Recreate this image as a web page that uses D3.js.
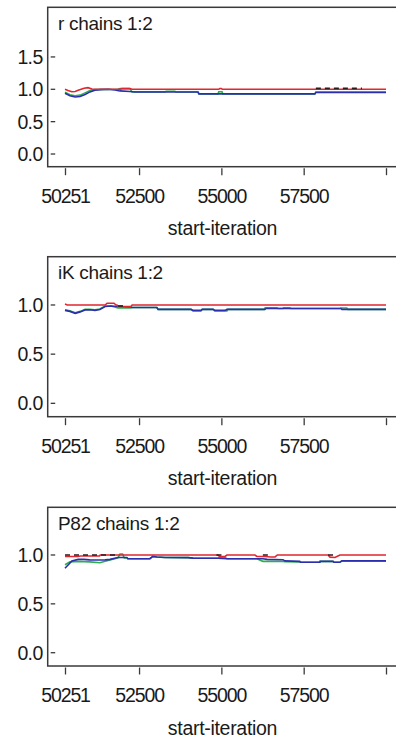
<!DOCTYPE html>
<html>
<head>
<meta charset="utf-8">
<script src="https://cdn.jsdelivr.net/npm/d3@7"></script>
<style>
  html, body { margin: 0; padding: 0; background: #fff; }
  svg { display: block; }
  text { font-family: "Liberation Sans", Arial, sans-serif; fill: #1a1a1a; }
</style>
</head>
<body>
<svg id="chart" width="396" height="742"></svg>
<script>
// Brooks-Gelman-Rubin convergence traces for three monitored nodes, 2 chains.
const xTicks = [50251, 52500, 55000, 57500, 60000];
const xTickLabels = ["50251", "52500", "55000", "57500", ""];
const xDomain = [50251, 60000];
const xTitle = "start-iteration";

const panelTitles = ["r chains 1:2", "iK chains 1:2", "P82 chains 1:2"];
const yTicksPanel = [[0, 0.5, 1.0, 1.5], [0, 0.5, 1.0], [0, 0.5, 1.0]];
const yTickLabelsPanel = [["0.0", "0.5", "1.0", "1.5"], ["0.0", "0.5", "1.0"], ["0.0", "0.5", "1.0"]];
const yDomainPanel = [[-0.196, 2.267], [-0.136, 1.491], [-0.136, 1.488]];

// r
const rGreen = [[50251,0.955],[50400,0.915],[50560,0.9],[50710,0.91],[50860,0.945],[51010,0.98],[51160,0.995],[51860,1.0],[51920,1.01],[52220,1.01],[52290,0.96],[53290,0.96],[53320,0.97],[53590,0.97],[53620,0.958],[54290,0.958],[54320,0.93],[54900,0.93],[54920,0.962],[55020,0.962],[55040,0.93],[57840,0.93],[57870,0.955],[60000,0.955]];
const rBlue = [[50251,0.94],[50400,0.9],[50560,0.882],[50710,0.888],[50860,0.92],[51010,0.96],[51160,0.985],[51310,0.995],[51560,1.0],[51770,0.99],[51920,0.975],[52220,0.965],[52380,0.958],[54290,0.958],[54320,0.93],[57840,0.93],[57870,0.953],[60000,0.953]];
const rRed = [[50251,1.0],[50340,0.98],[50460,0.962],[50560,0.965],[50650,0.985],[50830,1.015],[50950,1.025],[51070,1.005],[51160,1.0],[51920,1.0],[51980,1.01],[52220,1.01],[52290,1.0],[54920,1.0],[54950,1.012],[55000,1.012],[55030,1.0],[57840,1.0],[60000,1.0]];
const rDark = [[57870,1.015],[59270,1.015]];

// iK
const iKGreen = [[50251,0.95],[50400,0.94],[50560,0.92],[50710,0.935],[50860,0.955],[51010,0.955],[51160,0.95],[51310,0.96],[51470,0.99],[51650,0.99],[51860,0.97],[52250,0.97],[52290,0.975],[53040,0.975],[53080,0.955],[54080,0.955],[54140,0.94],[54380,0.94],[54420,0.955],[54750,0.955],[54800,0.94],[55170,0.94],[55200,0.955],[56300,0.955],[56330,0.972],[56690,0.972],[56720,0.965],[56870,0.965],[56890,0.972],[57080,0.972],[57110,0.965],[58600,0.965],[58630,0.97],[58810,0.97],[58840,0.955],[60000,0.955]];
const iKBlue = [[50251,0.945],[50400,0.935],[50560,0.915],[50710,0.93],[50860,0.95],[51010,0.952],[51160,0.945],[51310,0.955],[51470,0.985],[51650,0.99],[51860,0.985],[52250,0.98],[52290,0.975],[53040,0.975],[53080,0.955],[54080,0.955],[54140,0.945],[54380,0.945],[54420,0.955],[54750,0.955],[54800,0.945],[55110,0.945],[55170,0.955],[56320,0.955],[56360,0.965],[58630,0.965],[58660,0.955],[60000,0.955]];
const iKRed = [[50251,1.01],[50320,1.0],[51470,1.0],[51530,1.018],[51740,1.018],[51800,1.0],[51830,1.0],[51860,0.985],[52250,0.985],[52290,1.0],[60000,1.0]];
const iKDark = [[51860,0.99],[52130,0.99]];

// P82
const pGreen = [[50251,0.9],[50400,0.93],[50650,0.935],[51000,0.93],[51310,0.92],[51470,0.935],[51620,0.95],[51860,0.97],[51920,1.01],[52000,1.01],[52050,0.97],[52130,0.97],[52160,0.962],[52830,0.962],[52920,0.985],[53040,0.98],[53290,0.975],[53990,0.973],[54140,0.968],[54900,0.966],[54950,0.975],[55110,0.975],[55170,0.962],[56080,0.962],[56260,0.935],[56870,0.935],[56930,0.932],[57380,0.93],[57400,0.925],[57990,0.925],[58000,0.935],[58390,0.935],[58420,0.925],[58600,0.925],[58660,0.94],[60000,0.94]];
const pBlue = [[50251,0.865],[50460,0.94],[50650,0.955],[50830,0.955],[51000,0.95],[51310,0.948],[51470,0.95],[51620,0.955],[51860,0.975],[52130,0.975],[52160,0.962],[52830,0.962],[52920,0.985],[53040,0.98],[53290,0.975],[53990,0.973],[54140,0.968],[54900,0.966],[55170,0.962],[56260,0.962],[56390,0.955],[56870,0.952],[56930,0.94],[57380,0.935],[57400,0.925],[57990,0.925],[58000,0.935],[58390,0.935],[58420,0.925],[58600,0.925],[58660,0.94],[60000,0.94]];
const pRed = [[50251,0.985],[50650,0.985],[50710,0.99],[51300,0.99],[51320,1.0],[54890,1.0],[54950,0.985],[55110,0.985],[55170,1.0],[56020,1.0],[56080,0.985],[56320,0.985],[56500,0.98],[56630,0.98],[56700,1.0],[58240,1.0],[58300,0.978],[58450,0.975],[58540,0.99],[58600,1.0],[60000,1.0]];
const pDark = [[50251,1.0],[51800,1.0],null,[54850,1.0],[55050,1.0],null,[56260,1.0],[56500,1.0],null,[58240,1.0],[58450,1.0]];

const panelSeries = [
  { green: rGreen, blue: rBlue, red: rRed, dark: rDark },
  { green: iKGreen, blue: iKBlue, red: iKRed, dark: iKDark },
  { green: pGreen, blue: pBlue, red: pRed, dark: pDark }
];

const svg = d3.select("#chart");
const frameLeft = 47.7, frameRight = 400;
const frames = [
  { top: 7.3, bottom: 166.7 },
  { top: 256.7, bottom: 416.7 },
  { top: 507.3, bottom: 666 }
];
const x = d3.scaleLinear().domain(xDomain).range([65, 386]);

const colors = { green: "#2fae4e", blue: "#2b2fae", red: "#e0262f", dark: "#2a1a1c" };

frames.forEach((f, i) => {
  const g = svg.append("g");
  const y = d3.scaleLinear().domain(yDomainPanel[i]).range([f.bottom, f.top]);

  // frame
  g.append("rect")
    .attr("x", frameLeft).attr("y", f.top)
    .attr("width", frameRight - frameLeft).attr("height", f.bottom - f.top)
    .attr("fill", "none").attr("stroke", "#3a3a3a").attr("stroke-width", 1.5);

  // y ticks (inside the frame) with labels
  yTicksPanel[i].forEach((t, k) => {
    g.append("line")
      .attr("x1", frameLeft + 3).attr("x2", frameLeft + 7.5)
      .attr("y1", y(t)).attr("y2", y(t))
      .attr("stroke", "#3a3a3a").attr("stroke-width", 1.3);
    g.append("text")
      .attr("x", frameLeft - 5).attr("y", y(t))
      .attr("dy", "0.36em")
      .attr("text-anchor", "end")
      .attr("font-size", 19.5)
      .attr("letter-spacing", -0.6)
      .text(yTickLabelsPanel[i][k]);
  });

  // x ticks below the frame
  const xAxis = d3.axisBottom(x).tickValues(xTicks).tickSize(7)
    .tickFormat((d, k) => xTickLabels[k]);
  const ax = g.append("g").attr("transform", `translate(0,${f.bottom + 1.5})`).call(xAxis);
  ax.select(".domain").remove();
  ax.selectAll(".tick line").attr("stroke", "#3a3a3a").attr("stroke-width", 1.3);
  ax.selectAll(".tick text")
    .attr("y", 0).attr("dy", 0)
    .attr("transform", "translate(0,34.5)")
    .attr("font-size", 19.5)
    .attr("letter-spacing", -1.1)
    .attr("fill", "#1a1a1a")
    .attr("font-family", "'Liberation Sans', Arial, sans-serif");

  // axis title
  g.append("text")
    .attr("x", 222.5).attr("y", f.bottom + 68.5)
    .attr("text-anchor", "middle")
    .attr("font-size", 19.5)
    .attr("letter-spacing", -0.3)
    .text(xTitle);

  // panel title
  g.append("text")
    .attr("x", 58).attr("y", f.top + 22.5)
    .attr("font-size", 19)
    .attr("letter-spacing", -0.3)
    .text(panelTitles[i]);

  // traces
  const line = d3.line()
    .defined(d => d !== null)
    .x(d => x(d[0]))
    .y(d => y(d[1]));
  const s = panelSeries[i];
  ["green", "blue", "red"].forEach(key => {
    g.append("path")
      .attr("d", line(s[key]))
      .attr("fill", "none")
      .attr("stroke", colors[key])
      .attr("stroke-width", 1.6);
  });
  g.append("path")
    .attr("d", line(s.dark))
    .attr("fill", "none")
    .attr("stroke", colors.dark)
    .attr("stroke-width", 1.7)
    .attr("stroke-dasharray", "5,4");
});
</script>
</body>
</html>
